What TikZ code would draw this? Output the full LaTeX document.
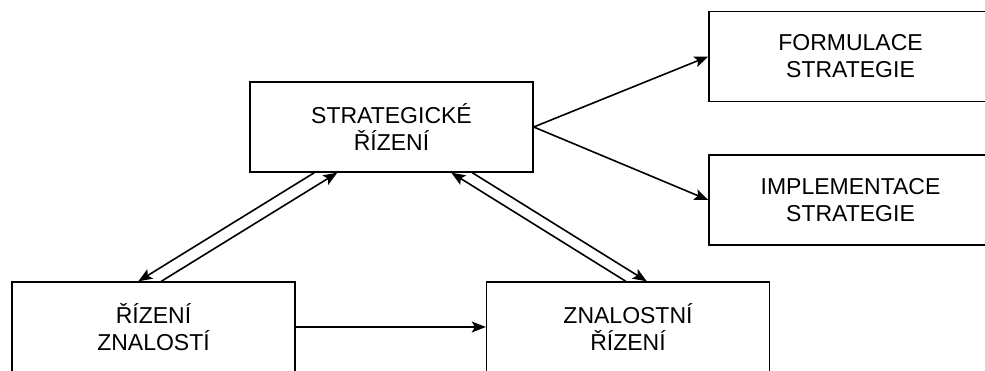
\documentclass[tikz,border=0pt]{standalone}
\usepackage{fontspec}
\setmainfont{Liberation Sans}
\usetikzlibrary{arrows.meta,calc}

\tikzset{
  box/.style={draw, line width=1.4pt, minimum width=283, minimum height=90,
    align=center, font=\fontsize{23}{27}\selectfont},
  arr/.style={line width=1.6pt, -{Stealth[length=14pt,width=11pt,inset=3pt]}}
}

\begin{document}
\begin{tikzpicture}[x=1pt,y=-1pt]

\clip (0,0) rectangle (985,371);
\node[box] (strat) at (391.5,127) {STRATEGICKÉ\\ŘÍZENÍ};
\node[box] (form) at (850.5,56.5) {FORMULACE\\STRATEGIE};
\node[box] (impl) at (850.5,200) {IMPLEMENTACE\\STRATEGIE};
\node[box] (riz) at (153.5,327) {ŘÍZENÍ\\ZNALOSTÍ};
\node[box] (znal) at (628,327) {ZNALOSTNÍ\\ŘÍZENÍ};

\draw[arr] (strat.east) -- (form.west);
\draw[arr] (strat.east) -- (impl.west);
\draw[arr] (riz.east) -- (znal.west);
% double connections
\draw[arr] ($(strat.south west)+(65,0)$) -- ($(riz.north west)+(127,0)$);
\draw[arr] ($(riz.north west)+(150,0)$) -- ($(strat.south west)+(88,0)$);
\draw[arr] ($(znal.north west)+(140,0)$) -- ($(strat.south west)+(202,0)$);
\draw[arr] ($(strat.south west)+(223,0)$) -- ($(znal.north west)+(161,0)$);
\end{tikzpicture}
\end{document}
